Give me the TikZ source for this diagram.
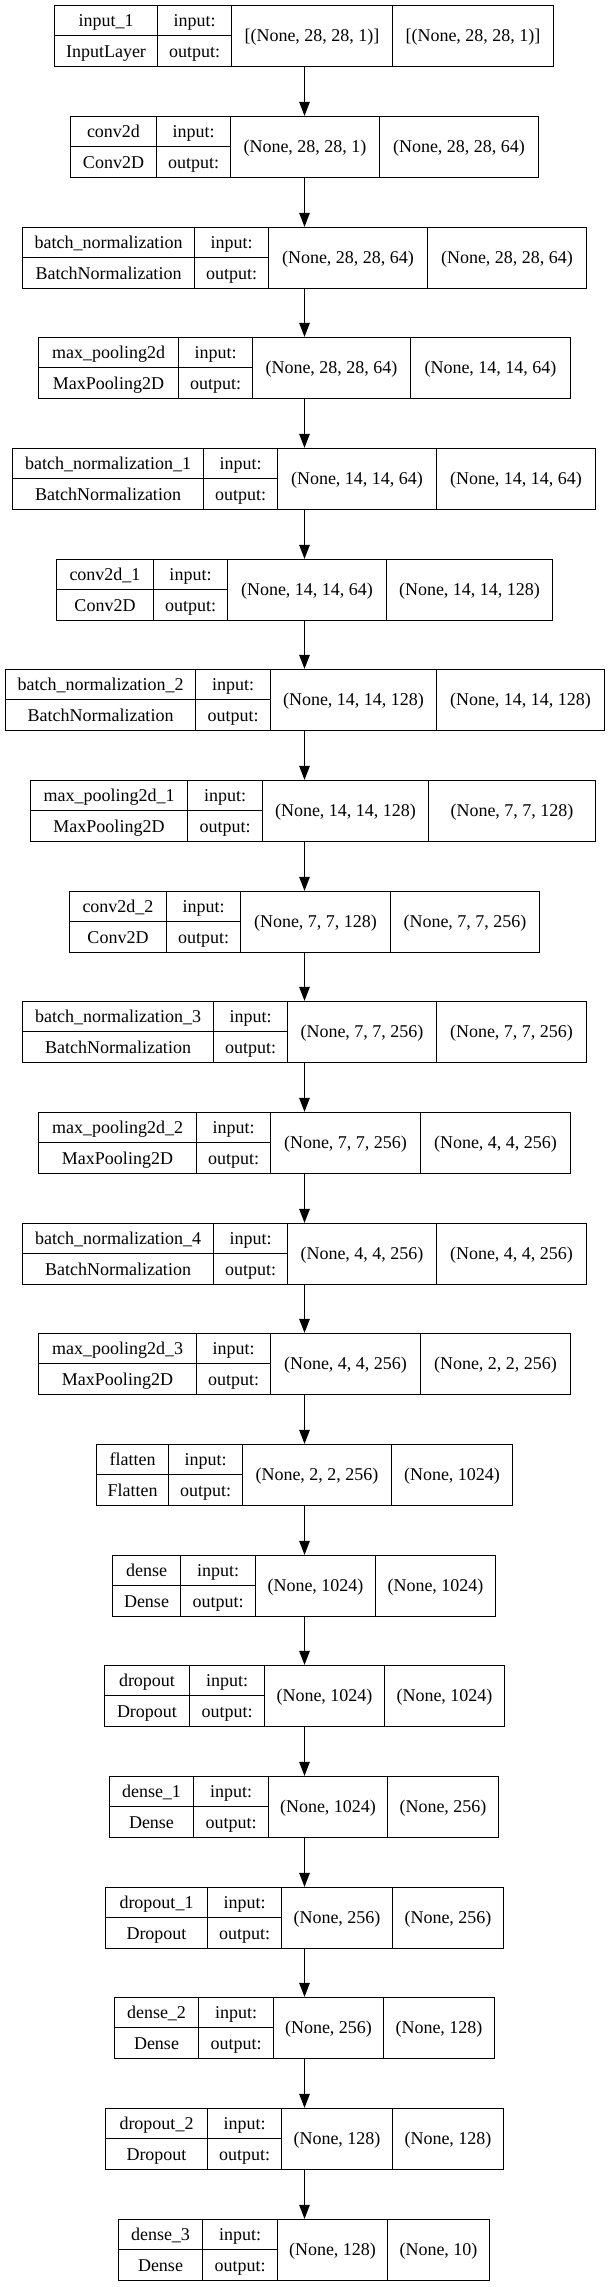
\documentclass[tikz,border=0pt]{standalone}
\usepackage{fontspec}
\setmainfont{Liberation Serif}
\usetikzlibrary{arrows.meta}
\tikzset{
  frame/.style={draw=black, line width=1.3pt, rectangle, inner sep=0pt, minimum height=61pt},
  cell/.style={inner sep=0pt, text height=13pt, text depth=2pt, font=\fontsize{18pt}{20pt}\selectfont},
  sepline/.style={line width=1.3pt},
  arr/.style={line width=1.3pt, -{Triangle[length=14pt,width=10.5pt]}},
}
\newcommand\kbox[6]{%
  \pgfmathsetmacro\kT{floor(5.7+#1*110.67)+0.5}%
  \pgfmathsetmacro\kBt{\kT+61}%
  \pgfmathsetmacro\kM{\kT+30.5}%
  \pgfmathsetmacro\kH{\kT+30}%
  \pgfmathsetmacro\kL{floor(#2)+0.5}%
  \pgfmathsetmacro\kA{floor(#3)+0.5}%
  \pgfmathsetmacro\kD{floor(#4)+0.5}%
  \pgfmathsetmacro\kC{floor(#5)+0.5}%
  \pgfmathsetmacro\kR{floor(#6)+0.5}%
  \pgfmathsetmacro\kW{\kR-\kL}%
  \pgfmathsetmacro\kX{(\kL+\kR)/2}%
  \def\kI{#1}%
  \node[frame, minimum width=\kW pt] (b#1) at (\kX,\kM) {};
  \draw[sepline] (\kA,\kT) -- (\kA,\kBt);
  \draw[sepline] (\kD,\kT) -- (\kD,\kBt);
  \draw[sepline] (\kC,\kT) -- (\kC,\kBt);
  \draw[sepline] (\kL,\kH) -- (\kD,\kH);
}
\newcommand\ktext[4]{%
  \node[cell] (nm\kI) at ({(\kL+\kA)/2},{\kT+15.3}) {#1};
  \node[cell] (ty\kI) at ({(\kL+\kA)/2},{\kT+46}) {#2};
  \node[cell] (in\kI) at ({(\kA+\kD)/2},{\kT+15.3}) {input:};
  \node[cell] (ou\kI) at ({(\kA+\kD)/2},{\kT+46}) {output:};
  \node[cell] (si\kI) at ({(\kD+\kC)/2},\kM) {#3};
  \node[cell] (so\kI) at ({(\kC+\kR)/2},\kM) {#4};
}
\begin{document}
\begin{tikzpicture}[x=1pt,y=-1pt]
\useasboundingbox (0,0) rectangle (609,2287);
\fill[white] (0,0) rectangle (609,2287);
\kbox{0}{54.3}{157.1}{231.6}{392.6}{553.5}
\ktext{input\_1}{InputLayer}{[(None, 28, 28, 1)]}{[(None, 28, 28, 1)]}
\kbox{1}{70.6}{156.3}{230.4}{379.4}{538.0}
\ktext{conv2d}{Conv2D}{(None, 28, 28, 1)}{(None, 28, 28, 64)}
\kbox{2}{22.5}{194.0}{268.8}{427.5}{586.5}
\ktext{batch\_normalization}{BatchNormalization}{(None, 28, 28, 64)}{(None, 28, 28, 64)}
\kbox{3}{38.8}{178.0}{252.5}{410.8}{570.2}
\ktext{max\_pooling2d}{MaxPooling2D}{(None, 28, 28, 64)}{(None, 14, 14, 64)}
\kbox{4}{12.8}{203.3}{277.7}{436.8}{595.8}
\ktext{batch\_normalization\_1}{BatchNormalization}{(None, 14, 14, 64)}{(None, 14, 14, 64)}
\kbox{5}{56.2}{153.2}{227.7}{386.4}{552.4}
\ktext{conv2d\_1}{Conv2D}{(None, 14, 14, 64)}{(None, 14, 14, 128)}
\kbox{6}{5.0}{195.9}{270.4}{436.8}{604.0}
\ktext{batch\_normalization\_2}{BatchNormalization}{(None, 14, 14, 128)}{(None, 14, 14, 128)}
\kbox{7}{30.3}{187.7}{262.2}{428.6}{595.8}
\ktext{max\_pooling2d\_1}{MaxPooling2D}{(None, 14, 14, 128)}{(None, 7, 7, 128)}
\kbox{8}{69.0}{166.4}{240.9}{390.2}{539.2}
\ktext{conv2d\_2}{Conv2D}{(None, 7, 7, 128)}{(None, 7, 7, 256)}
\kbox{9}{22.5}{213.0}{287.4}{436.8}{586.5}
\ktext{batch\_normalization\_3}{BatchNormalization}{(None, 7, 7, 256)}{(None, 7, 7, 256)}
\kbox{10}{38.8}{196.3}{270.8}{420.1}{570.2}
\ktext{max\_pooling2d\_2}{MaxPooling2D}{(None, 7, 7, 256)}{(None, 4, 4, 256)}
\kbox{11}{22.5}{213.0}{287.4}{436.8}{586.5}
\ktext{batch\_normalization\_4}{BatchNormalization}{(None, 4, 4, 256)}{(None, 4, 4, 256)}
\kbox{12}{38.8}{196.3}{270.8}{420.1}{570.2}
\ktext{max\_pooling2d\_3}{MaxPooling2D}{(None, 4, 4, 256)}{(None, 2, 2, 256)}
\kbox{13}{96.2}{168.3}{242.8}{391.8}{512.0}
\ktext{flatten}{Flatten}{(None, 2, 2, 256)}{(None, 1024)}
\kbox{14}{112.9}{180.8}{255.2}{375.5}{495.4}
\ktext{dense}{Dense}{(None, 1024)}{(None, 1024)}
\kbox{15}{104.7}{189.7}{264.2}{384.0}{504.3}
\ktext{dropout}{Dropout}{(None, 1024)}{(None, 1024)}
\kbox{16}{109.8}{193.2}{268.0}{387.9}{498.4}
\ktext{dense\_1}{Dense}{(None, 1024)}{(None, 256)}
\kbox{17}{105.5}{207.1}{281.6}{392.2}{503.1}
\ktext{dropout\_1}{Dropout}{(None, 256)}{(None, 256)}
\kbox{18}{114.4}{198.2}{273.1}{383.2}{494.2}
\ktext{dense\_2}{Dense}{(None, 256)}{(None, 128)}
\kbox{19}{105.5}{207.1}{281.6}{392.2}{503.1}
\ktext{dropout\_2}{Dropout}{(None, 128)}{(None, 128)}
\kbox{20}{118.3}{202.1}{277.0}{387.5}{489.9}
\ktext{dense\_3}{Dense}{(None, 128)}{(None, 10)}
\foreach \i in {0,...,19}{
  \pgfmathtruncatemacro\j{\i+1}
  \draw[arr] (304.5,0 |- b\i.south) -- (304.5,0 |- b\j.north);
}
\end{tikzpicture}
\end{document}
